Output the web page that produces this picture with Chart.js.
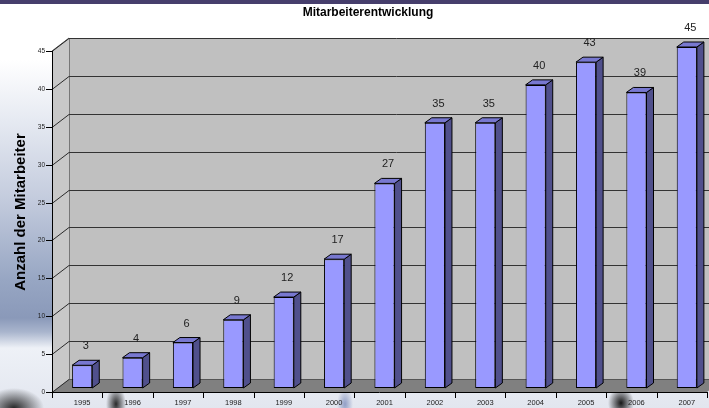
<!DOCTYPE html>
<html>
<head>
<meta charset="utf-8">
<script src="https://cdn.jsdelivr.net/npm/chart.js@4.4.0/dist/chart.umd.min.js"></script>
<style>
  html, body { margin: 0; padding: 0; width: 709px; height: 408px; overflow: hidden; }
  body {
    background:
      radial-gradient(ellipse 10px 18px at 116px 404px, rgba(20,20,20,0.9), rgba(20,20,20,0)),
      radial-gradient(ellipse 13px 16px at 621px 403px, rgba(10,10,10,0.95), rgba(10,10,10,0)),
      radial-gradient(ellipse 30px 20px at 14px 408px, rgba(30,30,30,0.95), rgba(30,30,30,0)),
      radial-gradient(ellipse 8px 16px at 345px 404px, rgba(90,110,170,0.6), rgba(90,110,170,0)),
      linear-gradient(to bottom, #463e6c 0, #463e6c 4px, #ffffff 4px, #ffffff 60px, #e6eaf2 120px, #c3cbdd 200px, #97a6c3 280px, #8a99b9 318px, #a9b5cd 332px, #eef1f7 348px, #e2e6ef 408px);
  }
  #wrap { position: relative; width: 709px; height: 408px; overflow: hidden; }
  #c { position: absolute; left: 0; top: 0; }
</style>
</head>
<body>
<div id="wrap"><canvas id="c" width="740" height="408"></canvas></div>
<script>
var years = ['1995', '1996', '1997', '1998', '1999', '2000', '2001', '2002', '2003', '2004', '2005', '2006', '2007'];
var staff = [3, 4, 6, 9, 12, 17, 27, 35, 35, 40, 43, 39, 45];
var yTicks = [0, 5, 10, 15, 20, 25, 30, 35, 40, 45];
var chartTitle = 'Mitarbeiterentwicklung';
var yTitle = 'Anzahl der Mitarbeiter';

// 3d offsets relative to the plane the bars stand in
var FRONT = { dx: -5, dy: 4 };
var BACK = { dx: 12, dy: -9 };
var DEPTH = { dx: 7, dy: -5 };

function poly(ctx, pts, fill, stroke) {
  ctx.beginPath();
  ctx.moveTo(pts[0][0], pts[0][1]);
  for (var i = 1; i < pts.length; i++) ctx.lineTo(pts[i][0], pts[i][1]);
  ctx.closePath();
  if (fill) { ctx.fillStyle = fill; ctx.fill(); }
  if (stroke) { ctx.strokeStyle = stroke; ctx.lineWidth = 1; ctx.stroke(); }
}

function line(ctx, x1, y1, x2, y2, color) {
  ctx.beginPath();
  ctx.moveTo(x1, y1);
  ctx.lineTo(x2, y2);
  ctx.strokeStyle = color;
  ctx.lineWidth = 1;
  ctx.stroke();
}

var box3d = {
  id: 'box3d',
  beforeDatasetsDraw: function (chart) {
    var ctx = chart.ctx;
    var a = chart.chartArea;
    var ys = chart.scales.y;
    var xs = chart.scales.x;
    var fl = a.left + FRONT.dx, fb = a.bottom + FRONT.dy, ft = a.top + FRONT.dy, fr = a.right + FRONT.dx;
    var bl = a.left + BACK.dx, bb = a.bottom + BACK.dy, bt = a.top + BACK.dy, br = a.right + BACK.dx;
    ctx.save();

    // walls and floor
    poly(ctx, [[bl, bt], [br, bt], [br, bb], [bl, bb]], '#c0c0c0', null);
    poly(ctx, [[fl, fb], [fl, ft], [bl, bt], [bl, bb]], '#c8c8c8', null);
    poly(ctx, [[fl, fb], [fr, fb], [br, bb], [bl, bb]], '#808080', null);
    line(ctx, bl + 0.5, bt, bl + 0.5, bb, '#777');
    line(ctx, fl, ft, bl, bt, '#555');

    // gridlines
    yTicks.forEach(function (v) {
      var y = Math.round(ys.getPixelForValue(v));
      line(ctx, fl, y + FRONT.dy + 0.5, bl, y + BACK.dy + 0.5, '#2a2a2a');
      line(ctx, bl, y + BACK.dy + 0.5, br, y + BACK.dy + 0.5, v === 0 ? '#555' : '#333');
    });

    // front axes
    line(ctx, fl + 0.5, ft, fl + 0.5, fb + 0.5, '#000');
    line(ctx, fl, fb + 0.5, fr, fb + 0.5, '#000');
    ctx.fillStyle = '#222';
    ctx.font = '6.5px "Liberation Sans", Arial, sans-serif';
    ctx.textAlign = 'right';
    ctx.textBaseline = 'middle';
    yTicks.forEach(function (v) {
      var y = Math.round(ys.getPixelForValue(v)) + FRONT.dy + 0.5;
      line(ctx, fl - 6, y, fl, y, '#000');
      ctx.fillText(String(v), fl - 7, y);
    });

    var cw = (a.right - a.left) / years.length;
    for (var i = 0; i <= years.length; i++) {
      var bx = Math.round(a.left + i * cw + FRONT.dx) + 0.5;
      line(ctx, bx, fb, bx, fb + 6, '#000');
    }
    ctx.textAlign = 'center';
    ctx.font = '7.5px "Liberation Sans", Arial, sans-serif';
    ctx.fillStyle = '#222';
    years.forEach(function (yr, i) {
      ctx.fillText(yr, xs.getPixelForValue(i), fb + 11);
    });

    // titles
    ctx.fillStyle = '#000';
    ctx.font = 'bold 12px "Liberation Sans", Arial, sans-serif';
    ctx.fillText(chartTitle, 368, 13);
    ctx.save();
    ctx.translate(21, 212);
    ctx.rotate(-Math.PI / 2);
    ctx.font = 'bold 15px "Liberation Sans", Arial, sans-serif';
    ctx.fillText(yTitle, 0, 0);
    ctx.restore();

    ctx.restore();
  },
  afterDatasetsDraw: function (chart) {
    var ctx = chart.ctx;
    var meta = chart.getDatasetMeta(0);
    ctx.save();
    meta.data.forEach(function (bar, i) {
      var l = bar.x - bar.width / 2, r = bar.x + bar.width / 2;
      var t = bar.y, b = bar.base;
      poly(ctx, [[r, t], [r + DEPTH.dx, t + DEPTH.dy], [r + DEPTH.dx, b + DEPTH.dy], [r, b]], '#50508c', '#000');
      poly(ctx, [[l, t], [l + DEPTH.dx, t + DEPTH.dy], [r + DEPTH.dx, t + DEPTH.dy], [r, t]], '#7878d0', '#000');
      ctx.fillStyle = '#222';
      ctx.font = '11px "Liberation Sans", Arial, sans-serif';
      ctx.textAlign = 'center';
      ctx.textBaseline = 'middle';
      ctx.fillText(String(staff[i]), bar.x + 3.5, t - 19);
    });
    ctx.restore();
  }
};

new Chart(document.getElementById('c'), {
  type: 'bar',
  data: {
    labels: years,
    datasets: [{
      data: staff,
      backgroundColor: '#9999ff',
      borderColor: '#000',
      borderWidth: 1,
      borderSkipped: false,
      barPercentage: 0.4,
      categoryPercentage: 1
    }]
  },
  options: {
    responsive: false,
    animation: false,
    layout: { padding: { left: 57, top: 47, right: 28, bottom: 20 } },
    plugins: { legend: { display: false }, tooltip: { enabled: false }, title: { display: false } },
    scales: {
      x: { display: false },
      y: { display: false, min: 0, max: 45 }
    }
  },
  plugins: [box3d]
});
</script>
</body>
</html>
